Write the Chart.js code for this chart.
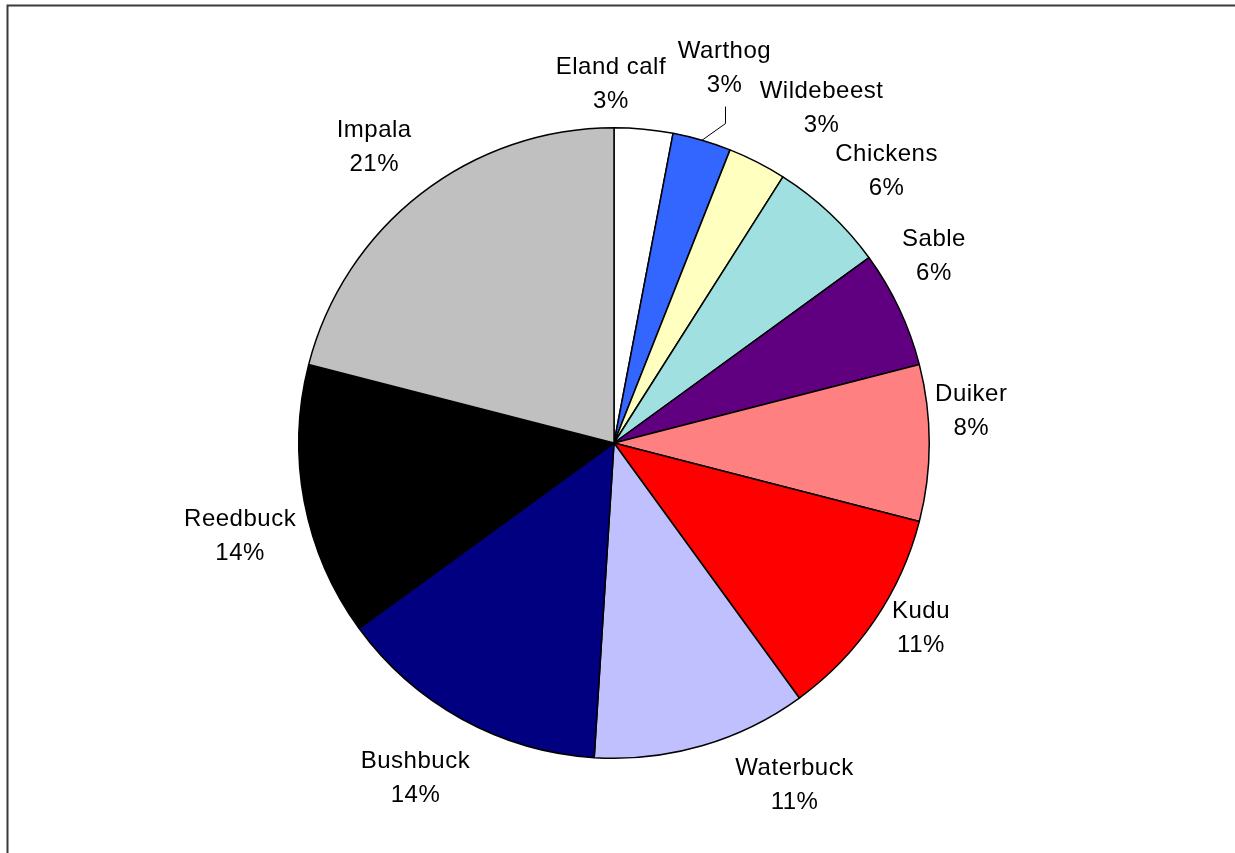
<!DOCTYPE html>
<html>
<head>
<meta charset="utf-8">
<script src="https://cdn.jsdelivr.net/npm/chart.js@4/dist/chart.umd.min.js"></script>
<style>
  html, body { margin: 0; padding: 0; background: #fff; }
  canvas { display: block; }
</style>
</head>
<body>
<canvas id="pie" width="1235" height="853"></canvas>
<script>
// Share of each prey species (percent)
const species = ['Eland calf', 'Warthog', 'Wildebeest', 'Chickens', 'Sable', 'Duiker',
                 'Kudu', 'Waterbuck', 'Bushbuck', 'Reedbuck', 'Impala'];
const sharePct = [3, 3, 3, 6, 6, 8, 11, 11, 14, 14, 21];

const sliceColors = ['#FFFFFF', '#3366FF', '#FFFFC0', '#A0E0E0', '#600080', '#FF8080',
                     '#FF0000', '#C0C0FF', '#000080', '#000000', '#C0C0C0'];

// Fine shifts (px) of each data label away from its default spot outside the slice
const labelNudge = [[-37, -2], [10, -31], [44, -16], [26, -11], [-6, -35], [-3, -34],
                    [9, -19], [80, -5], [-25, 18], [-20, 24], [-19, -13]];
// Labels that are tied to their slice with a leader line
const leaderLabels = ['Warthog'];

// Chart frame: dark rule along the top and left edges
const framePlugin = {
  id: 'frame',
  beforeDraw(chart) {
    const ctx = chart.ctx;
    ctx.save();
    ctx.fillStyle = '#ffffff';
    ctx.fillRect(0, 0, chart.width, chart.height);
    ctx.strokeStyle = '#3a3a3a';
    ctx.lineWidth = 2;
    ctx.beginPath();
    ctx.moveTo(7.5, chart.height);
    ctx.lineTo(7.5, 5.5);
    ctx.lineTo(chart.width, 5.5);
    ctx.stroke();
    ctx.restore();
  }
};

// Two-line "name / percent" labels outside the pie
const sliceLabelPlugin = {
  id: 'sliceLabels',
  afterDatasetsDraw(chart, args, opts) {
    const ctx = chart.ctx;
    const meta = chart.getDatasetMeta(0);
    const values = chart.data.datasets[0].data;
    const names = chart.data.labels;
    const total = values.reduce((a, b) => a + b, 0);
    ctx.save();
    ctx.font = opts.font;
    ctx.letterSpacing = opts.letterSpacing;
    ctx.fillStyle = '#000';
    ctx.textAlign = 'center';
    ctx.textBaseline = 'alphabetic';
    meta.data.forEach((arc, i) => {
      const p = arc.getProps(['x', 'y', 'startAngle', 'endAngle', 'outerRadius'], true);
      const mid = (p.startAngle + p.endAngle) / 2;
      const ux = Math.cos(mid), uy = Math.sin(mid);
      const R = p.outerRadius + opts.distance;
      const [nx, ny] = opts.nudge[i];
      const cx = p.x + ux * R + nx;
      const cy = p.y + uy * R + ny;
      const pct = Math.round(values[i] / total * 100) + '%';
      ctx.fillText(names[i], cx, cy - opts.lineGap / 2 + opts.capHalf);
      ctx.fillText(pct, cx, cy + opts.lineGap / 2 + opts.capHalf);
      if (opts.leaders.includes(names[i])) {
        const ex = p.x + ux * p.outerRadius, ey = p.y + uy * p.outerRadius;
        ctx.save();
        ctx.strokeStyle = '#000';
        ctx.lineWidth = 1;
        ctx.beginPath();
        ctx.moveTo(ex, ey);
        ctx.lineTo(Math.round(cx) + 0.5, cy + 57.5);
        ctx.lineTo(Math.round(cx) + 0.5, cy + 40.5);
        ctx.stroke();
        ctx.restore();
      }
    });
    ctx.restore();
  }
};

new Chart(document.getElementById('pie'), {
  type: 'pie',
  data: {
    labels: species,
    datasets: [{
      data: sharePct,
      backgroundColor: sliceColors,
      borderColor: '#000000',
      borderWidth: 1.5,
      borderAlign: 'center'
    }]
  },
  options: {
    responsive: false,
    animation: false,
    events: [],
    layout: { padding: { top: 127, bottom: 94, left: 298, right: 305 } },
    plugins: {
      legend: { display: false },
      tooltip: { enabled: false },
      sliceLabels: {
        font: '24px "Liberation Sans", Arial, sans-serif',
        letterSpacing: '0.5px',
        distance: 45,
        lineGap: 34,
        capHalf: 8.5,
        nudge: labelNudge,
        leaders: leaderLabels
      }
    }
  },
  plugins: [framePlugin, sliceLabelPlugin]
});
</script>
</body>
</html>
